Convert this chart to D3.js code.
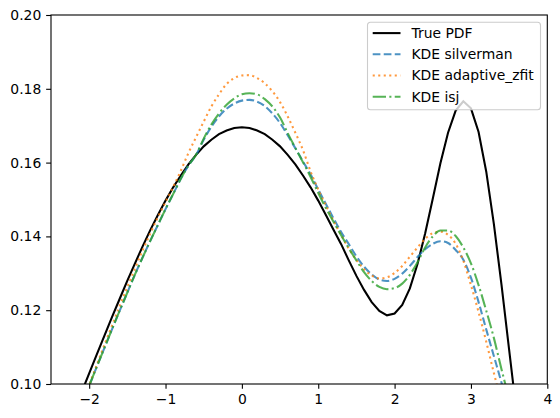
<!DOCTYPE html>
<html lang="en">
<head>
    <meta charset="UTF-8">
    <title>KDE comparison</title>
</head>
<style>
    body { margin: 0; background: #fff; }
    text { font-family: "DejaVu Sans", sans-serif; font-size: 13.9px; fill: #000; }
    .axis path, .axis line { stroke: #000; stroke-width: 1.1px; }
</style>
<body>
<script src="https://d3js.org/d3.v7.min.js"></script>
<script>
    const width = 560, height = 418;
    const margin = {left: 51, top: 15, right: 12.7, bottom: 34};

    // sample grid shared by all curves
    const xs = [-2.1, -2.0, -1.9, -1.8, -1.7, -1.6, -1.5, -1.4, -1.3, -1.2, -1.1, -1.0,
        -0.9, -0.8, -0.7, -0.6, -0.5, -0.4, -0.3, -0.2, -0.1, 0.0, 0.1, 0.2, 0.3, 0.4,
        0.5, 0.6, 0.7, 0.8, 0.9, 1.0, 1.1, 1.2, 1.3, 1.4, 1.5, 1.6, 1.7, 1.8, 1.9, 2.0,
        2.1, 2.2, 2.3, 2.4, 2.5, 2.6, 2.7, 2.8, 2.9, 3.0, 3.1, 3.2, 3.3, 3.4, 3.5, 3.6];

    const truePdf = [0.0977, 0.1029, 0.1080, 0.1131, 0.1182, 0.1231, 0.1280, 0.1327, 0.1373, 0.1417, 0.1458, 0.1497,
        0.1533, 0.1565, 0.1595, 0.1621, 0.1644, 0.1662, 0.1677, 0.1687, 0.1694, 0.1696, 0.1694, 0.1687, 0.1677, 0.1662,
        0.1644, 0.1621, 0.1595, 0.1565, 0.1533, 0.1497, 0.1458, 0.1418, 0.1379, 0.1335, 0.1293, 0.1255, 0.1222, 0.1198, 0.1186, 0.1191,
        0.1214, 0.1259, 0.1325, 0.1408, 0.1502, 0.1598, 0.1681, 0.1741, 0.1766, 0.1747, 0.1683, 0.1576, 0.1434, 0.1269, 0.1093, 0.0918];

    const kdeSilverman = [0.0944, 0.0995, 0.1047, 0.1098, 0.1149, 0.1199, 0.1248, 0.1297, 0.1343, 0.1388, 0.1431, 0.1474,
        0.1515, 0.1556, 0.1592, 0.1621, 0.1662, 0.1697, 0.1725, 0.1746, 0.1760, 0.1768, 0.1770, 0.1765, 0.1753, 0.1733,
        0.1707, 0.1674, 0.1639, 0.1603, 0.1568, 0.1527, 0.1488, 0.1449, 0.1412, 0.1379, 0.1346, 0.1318, 0.1297, 0.1283, 0.1279, 0.1285,
        0.1299, 0.1320, 0.1344, 0.1365, 0.1380, 0.1387, 0.1382, 0.1363, 0.1337, 0.1288, 0.1222, 0.1148, 0.1076, 0.1004, 0.0930];

    const kdeAdaptive = [0.0946, 0.0997, 0.1052, 0.1106, 0.1159, 0.1212, 0.1263, 0.1313, 0.1362, 0.1408, 0.1452, 0.1493,
        0.1534, 0.1578, 0.1626, 0.1669, 0.1711, 0.1752, 0.1785, 0.1813, 0.1829, 0.1836, 0.1837, 0.1829, 0.1815, 0.1793,
        0.1764, 0.1725, 0.1681, 0.1634, 0.1576, 0.1527, 0.1484, 0.1442, 0.1404, 0.1367, 0.1336, 0.1311, 0.1294, 0.1286, 0.1289, 0.1301,
        0.1320, 0.1345, 0.1370, 0.1393, 0.1409, 0.1413, 0.1404, 0.1380, 0.1334, 0.1268, 0.1195, 0.1115, 0.1030, 0.0950];

    const kdeIsj = [0.0944, 0.0995, 0.1047, 0.1098, 0.1149, 0.1199, 0.1248, 0.1297, 0.1343, 0.1388, 0.1431, 0.1474,
        0.1515, 0.1556, 0.1592, 0.1621, 0.1665, 0.1703, 0.1733, 0.1757, 0.1774, 0.1785, 0.1788, 0.1785, 0.1772, 0.1752,
        0.1722, 0.1680, 0.1640, 0.1601, 0.1561, 0.1518, 0.1477, 0.1440, 0.1403, 0.1368, 0.1335, 0.1303, 0.1279, 0.1263, 0.1257, 0.1260,
        0.1272, 0.1296, 0.1330, 0.1370, 0.1400, 0.1416, 0.1416, 0.1401, 0.1370, 0.1327, 0.1268, 0.1199, 0.1125, 0.1040, 0.0960];

    const xTicks = [-2, -1, 0, 1, 2, 3, 4];
    const yTicks = [0.10, 0.12, 0.14, 0.16, 0.18, 0.20];

    const lw = 2.08;
    const series = [
        {name: "True PDF", values: truePdf, color: "#000000", opacity: 1, dash: null, curve: d3.curveLinear},
        {name: "KDE silverman", values: kdeSilverman, color: "#1f77b4", opacity: 0.8, dash: "7.7,3.33", curve: d3.curveMonotoneX},
        {name: "KDE adaptive_zfit", values: kdeAdaptive, color: "#ff7f0e", opacity: 0.8, dash: "2.08,3.43", curve: d3.curveMonotoneX},
        {name: "KDE isj", values: kdeIsj, color: "#2ca02c", opacity: 0.8, dash: "13.3,3.33,2.08,3.33", curve: d3.curveMonotoneX}
    ];

    const x = d3.scaleLinear().domain([-2.5, 4]).range([margin.left, width - margin.right]);
    const y = d3.scaleLinear().domain([0.10, 0.20]).range([height - margin.bottom, margin.top]);

    const svg = d3.select("body").append("svg")
        .attr("width", width)
        .attr("height", height);

    svg.append("defs").append("clipPath")
        .attr("id", "plot-clip")
        .append("rect")
        .attr("x", x.range()[0])
        .attr("y", y.range()[1])
        .attr("width", x.range()[1] - x.range()[0])
        .attr("height", y.range()[0] - y.range()[1]);

    const minus = s => s.replace("-", "\u2212");

    // curves
    const plot = svg.append("g").attr("clip-path", "url(#plot-clip)");
    series.forEach(function (s) {
        const line = d3.line()
            .x((d, i) => x(xs[i]))
            .y(d => y(d))
            .curve(s.curve);
        plot.append("path")
            .datum(s.values)
            .attr("d", line)
            .attr("fill", "none")
            .attr("stroke", s.color)
            .attr("stroke-opacity", s.opacity)
            .attr("stroke-width", lw)
            .attr("stroke-dasharray", s.dash);
    });

    // axes
    svg.append("g")
        .attr("class", "axis")
        .attr("transform", `translate(0,${y.range()[0]})`)
        .call(d3.axisBottom(x).tickValues(xTicks).tickSize(4.86).tickPadding(4.86)
            .tickFormat(d => minus(d3.format("d")(d))));
    svg.append("g")
        .attr("class", "axis")
        .attr("transform", `translate(${x.range()[0]},0)`)
        .call(d3.axisLeft(y).tickValues(yTicks).tickSize(4.86).tickPadding(4.86)
            .tickFormat(d3.format(".2f")));
    svg.selectAll(".axis .domain").remove();
    svg.selectAll(".axis text").attr("font-family", null).attr("font-size", null);

    // spines
    svg.append("rect")
        .attr("x", x.range()[0])
        .attr("y", y.range()[1])
        .attr("width", x.range()[1] - x.range()[0])
        .attr("height", y.range()[0] - y.range()[1])
        .attr("fill", "none")
        .attr("stroke", "#000")
        .attr("stroke-width", 1.1);

    // legend
    const legend = svg.append("g").attr("transform", "translate(367.5,22.3)");
    legend.append("rect")
        .attr("width", 173)
        .attr("height", 87.4)
        .attr("rx", 3)
        .attr("fill", "#fff")
        .attr("fill-opacity", 0.8)
        .attr("stroke", "#cccccc")
        .attr("stroke-width", 1.1);
    series.forEach(function (s, i) {
        const ry = 10.8 + i * 21.2;
        legend.append("line")
            .attr("x1", 5.2).attr("x2", 33)
            .attr("y1", ry).attr("y2", ry)
            .attr("stroke", s.color)
            .attr("stroke-opacity", s.opacity)
            .attr("stroke-width", lw)
            .attr("stroke-dasharray", s.dash);
        legend.append("text")
            .attr("x", 44)
            .attr("y", ry)
            .attr("dy", "0.35em")
            .text(s.name);
    });
</script>
</body>
</html>
